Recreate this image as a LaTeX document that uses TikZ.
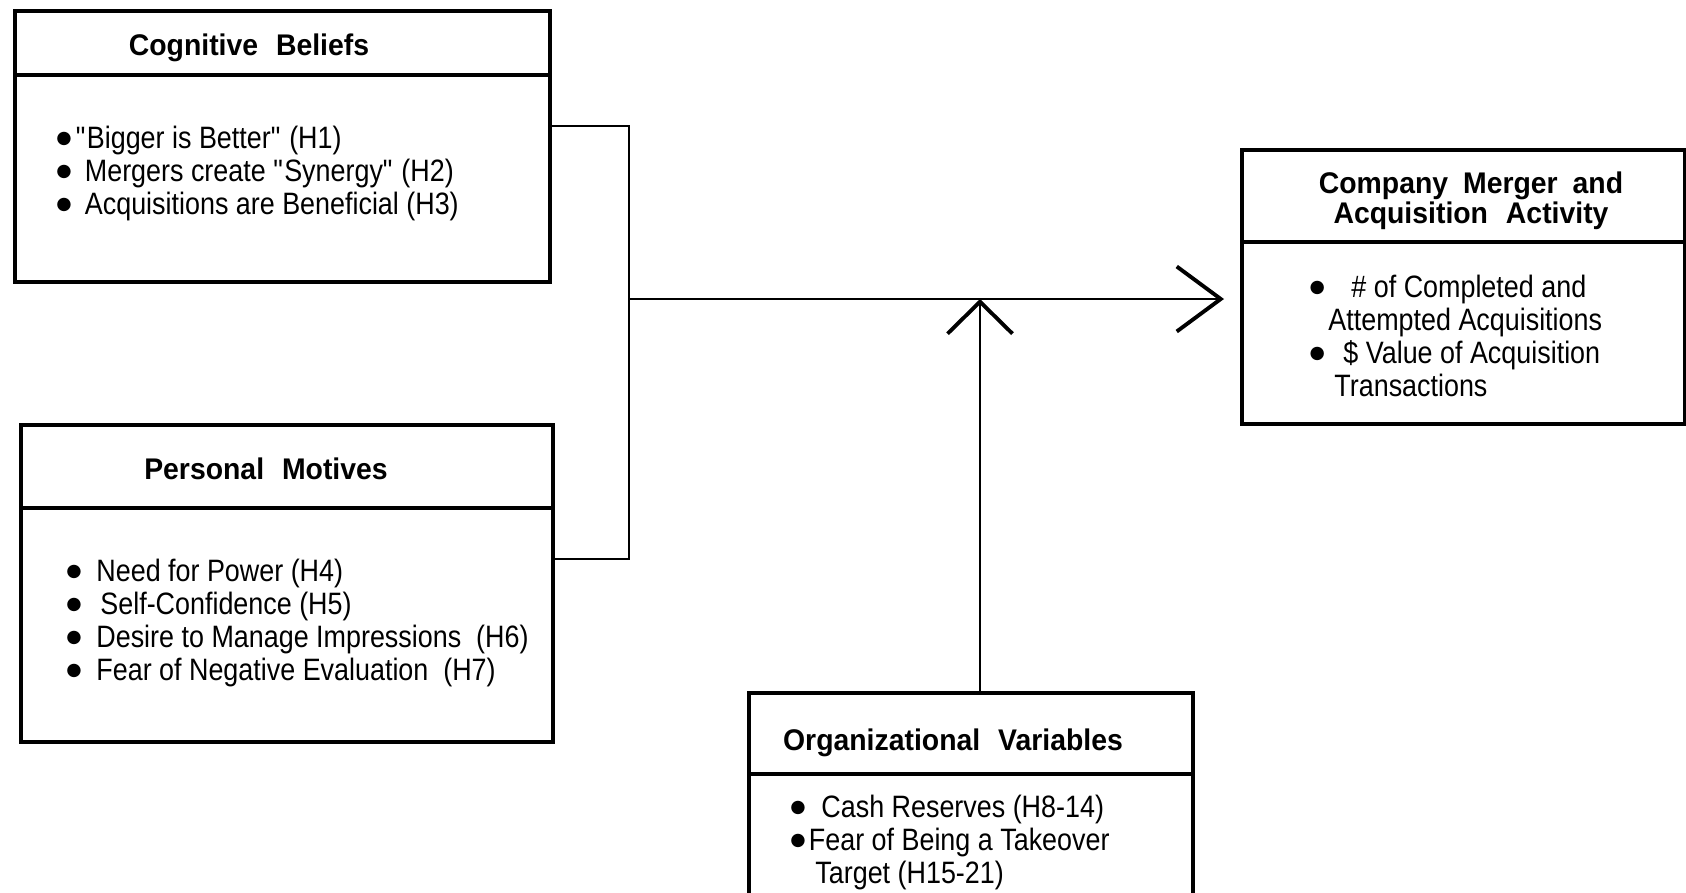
\documentclass[tikz,border=0pt]{standalone}
\usepackage{fontspec}
\setmainfont{Liberation Sans}[FakeStretch=0.87]
\newfontfamily\headfont{Liberation Sans}[FakeStretch=0.95]
\newfontfamily\symfont{DejaVu Sans}
\newcommand{\dotmark}{\makebox[0.095cm][c]{\raisebox{1.6pt}{\symfont\fontsize{5}{5}\selectfont ●}}}
\newcommand{\qt}{\textquotedbl}
\usetikzlibrary{arrows.meta,positioning}

\begin{document}
\begin{tikzpicture}[thick,
    box/.style={draw,rectangle,line width=1.2pt,anchor=north west,inner sep=0pt},
    split/.style={line width=1.2pt},
    head/.style={align=center,inner sep=0pt,font=\headfont\bfseries\fontsize{8.5}{8.6}\selectfont},
    items/.style={anchor=north west,align=left,inner sep=0pt,font=\fontsize{8.8}{9.4}\selectfont},
    wire/.style={line width=0.7pt},
    barb/.style={-{Straight Barb[length=4.4mm,width=6.5mm,line width=1.1pt]}}]
\useasboundingbox (0,0) rectangle (16.86,-8.92);

% the four boxes
\node[box,minimum width=5.35cm,minimum height=2.71cm] (cog) at (0.13,-0.09) {};
\node[box,minimum width=5.32cm,minimum height=3.17cm] (pm) at (0.19,-4.23) {};
\node[box,minimum width=4.44cm,minimum height=2.10cm] (org) at (7.47,-6.91) {};
\node[box,minimum width=4.43cm,minimum height=2.74cm] (cmp) at (12.40,-1.48) {};

\draw[split] (cog.west |- 0,-0.75) -- (cog.east |- 0,-0.75);
\draw[split] (pm.west |- 0,-5.08) -- (pm.east |- 0,-5.08);
\draw[split] (org.west |- 0,-7.74) -- (org.east |- 0,-7.74);
\draw[split] (cmp.west |- 0,-2.42) -- (cmp.east |- 0,-2.42);

% titles
\node[head] (cogt) at (2.49,-0.48) {Cognitive\hspace{0.6em}Beliefs};
\node[head] (pmt) at (2.66,-4.69) {Personal\hspace{0.6em}Motives};
\node[head] (orgt) at (9.53,-7.43) {Organizational\hspace{0.6em}Variables};
\node[head] (cmpt) at (14.71,-2.01) {Company\hspace{0.5em}Merger\hspace{0.5em}and\\Acquisition\hspace{0.6em}Activity};

% items
\node[items] (cogi) at (0.58,-1.25) {\dotmark\hspace*{0.07cm}\qt Bigger is Better\qt{} (H1)\\
  \dotmark\hspace*{0.16cm}Mergers create \qt Synergy\qt{} (H2)\\
  \dotmark\hspace*{0.16cm}Acquisitions are Beneficial (H3)};
\node[items] (pmi) at (0.68,-5.58) {\dotmark\hspace*{0.175cm}Need for Power (H4)\\
  \dotmark\hspace*{0.215cm}Self-Confidence (H5)\\
  \dotmark\hspace*{0.175cm}Desire to Manage Impressions\ \ (H6)\\
  \dotmark\hspace*{0.175cm}Fear of Negative Evaluation\ \ (H7)};
\node[items] (orgi) at (7.92,-7.94) {\dotmark\hspace*{0.185cm}Cash Reserves (H8-14)\\
  \dotmark\hspace*{0.06cm}Fear of Being a Takeover\\
  \hspace*{0.22cm}Target (H15-21)};
\node[items] (cmpi) at (13.11,-2.74) {\dotmark\hspace*{0.295cm}\#~of Completed and\\
  \hspace*{0.16cm}Attempted Acquisitions\\
  \dotmark\hspace*{0.215cm}\$ Value of Acquisition\\
  \hspace*{0.22cm}Transactions};

% connectors
\coordinate (top) at (6.29,-1.26);
\coordinate (bot) at (6.29,-5.59);
\coordinate (mid) at (6.29,-2.99);
\coordinate (meet) at (9.80,-2.99);
\draw[wire] (cog.east |- top) -- (top) -- (bot) -- (pm.east |- bot);
\draw[wire,barb,shorten >=0.16cm] (mid) -- (cmp.west |- mid);
\draw[wire,barb,{Straight Barb[length=3.2mm,width=6.5mm,line width=1.1pt]}-] (meet) -- (org.north -| meet);

\end{tikzpicture}
\end{document}
